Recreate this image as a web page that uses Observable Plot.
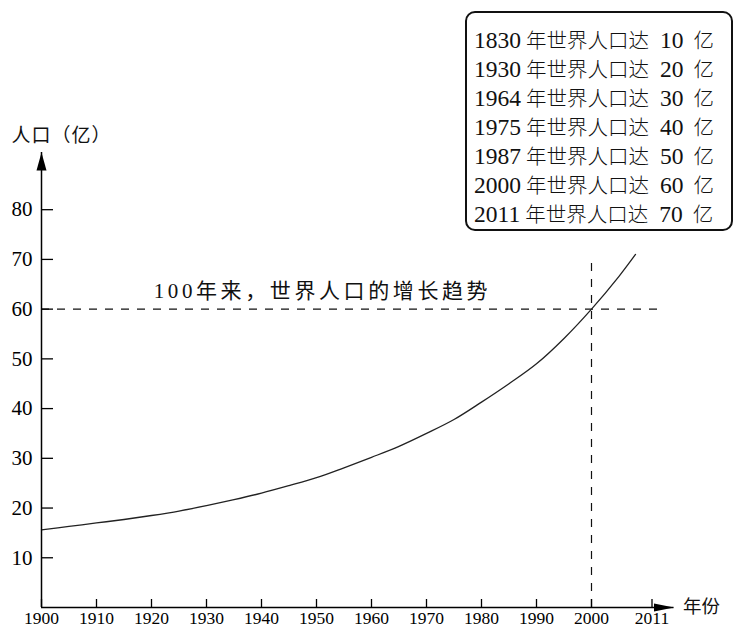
<!DOCTYPE html>
<html>
<head>
<meta charset="utf-8">
<script src="https://cdn.jsdelivr.net/npm/d3@7"></script>
<script src="https://cdn.jsdelivr.net/npm/@observablehq/plot@0.6"></script>
<style>
  html, body { margin: 0; padding: 0; background: #fff; }
  #wrap { position: relative; width: 737px; height: 629px; }
  #box {
    position: absolute; left: 465px; top: 11px; width: 264px; height: 216px;
    border: 2px solid #111; border-radius: 10px; box-sizing: content-box;
    color: #111; z-index: 2; background: #fff;
  }
  #box .inner { position: absolute; left: 7px; top: 12px; white-space: nowrap; }
  #box .row { height: 29px; line-height: 29px; }
  #box .n { font-family: "Liberation Serif", serif; font-size: 23.5px; }
  #box .c { font-family: "Noto Sans CJK SC", sans-serif; font-size: 20.5px; font-weight: 300; }
  #box .yr { margin-right: 5px; }
  #box .val { margin-left: 11px; margin-right: 10px; }
</style>
</head>
<body>
<div id="wrap"><div id="box"><div class="inner" id="boxtext"></div></div></div>
<script>
// ---- data ----
const years = [1900, 1905, 1910, 1915, 1920, 1925, 1930, 1935, 1940, 1945, 1950, 1955, 1960, 1965, 1970, 1975, 1980, 1985, 1990, 1995, 2000, 2005, 2008];
const population = [15.6, 16.3, 17.0, 17.7, 18.5, 19.4, 20.5, 21.7, 23.0, 24.5, 26.1, 28.1, 30.2, 32.4, 35.0, 37.8, 41.3, 45.0, 49.0, 54.1, 60.0, 66.6, 71.0];
const xTicks = [1900, 1910, 1920, 1930, 1940, 1950, 1960, 1970, 1980, 1990, 2000, 2011];
const yTicks = [10, 20, 30, 40, 50, 60, 70, 80];
const milestoneYears = [1830, 1930, 1964, 1975, 1987, 2000, 2011];
const milestoneValues = [10, 20, 30, 40, 50, 60, 70];
const refYear = 2000, refValue = 60;
const guideXEnd = 2012.2, guideYEnd = 70.8;
const xAxisEnd = 2015, yAxisEnd = 91.5;
const titleText = "100年来，世界人口的增长趋势";
const titleAt = [{x: 1920.4, y: 60}];
const yTitle = "人口（亿）";
const xTitle = "年份";

const series = years.map((y, i) => ({year: y, pop: population[i]}));

const serif = "'Liberation Serif', 'Noto Sans CJK SC', serif";

const arrowUp = {draw(ctx) { ctx.moveTo(0, 0); ctx.lineTo(5, 18); ctx.lineTo(-5, 18); ctx.closePath(); }};
const arrowRight = {draw(ctx) { ctx.moveTo(0, 0); ctx.lineTo(-20, 4); ctx.lineTo(-20, -4); ctx.closePath(); }};

const chart = Plot.plot({
  width: 737,
  height: 629,
  marginLeft: 41,
  marginRight: 63.5,
  marginTop: 152,
  marginBottom: 22,
  style: {fontFamily: serif, background: "transparent", overflow: "visible"},
  x: {domain: [1900, xAxisEnd]},
  y: {domain: [0, yAxisEnd]},
  marks: [
    Plot.ruleY([refValue], {x1: 1900, x2: guideXEnd, stroke: "#111", strokeWidth: 1.2, strokeDasharray: "8,8"}),
    Plot.ruleX([refYear], {y1: 0, y2: guideYEnd, stroke: "#111", strokeWidth: 1.2, strokeDasharray: "8,8"}),
    Plot.line(series, {x: "year", y: "pop", curve: "catmull-rom", stroke: "#222", strokeWidth: 1.3}),
    Plot.ruleY([0], {x1: 1900, x2: xAxisEnd, stroke: "#000", strokeWidth: 1.5}),
    Plot.ruleX([1900], {y1: 0, y2: yAxisEnd, stroke: "#000", strokeWidth: 1.5}),
    Plot.dot([{x: 1900, y: yAxisEnd}], {x: "x", y: "y", symbol: arrowUp, fill: "#000", stroke: "none"}),
    Plot.dot([{x: xAxisEnd, y: 0}], {x: "x", y: "y", symbol: arrowRight, fill: "#000", stroke: "none"}),
    Plot.axisX({ticks: xTicks, tickFormat: d => String(d), tickSize: -8, tickPadding: 12.5, fontSize: 17.5, fontFamily: serif, stroke: "#000", strokeWidth: 1.3, fill: "#000"}),
    Plot.axisY({ticks: yTicks, tickFormat: d => String(d), tickSize: -12, tickPadding: 21, fontSize: 21, fontFamily: serif, stroke: "#000", strokeWidth: 1.3, fill: "#000"}),
    Plot.text(titleAt, {x: "x", y: "y", text: () => titleText, textAnchor: "start", lineAnchor: "bottom", dy: -11, fontSize: 21, fontFamily: serif, fill: "#111"}),
    Plot.text([{x: 1900, y: yAxisEnd}], {x: "x", y: "y", text: () => yTitle, textAnchor: "start", dx: -30, dy: -17, fontSize: 19, fontFamily: serif, fill: "#111"}),
    Plot.text([{x: xAxisEnd, y: 0}], {x: "x", y: "y", text: () => xTitle, textAnchor: "start", dx: 9, fontSize: 18.5, fontFamily: serif, fill: "#111"})
  ]
});

chart.querySelectorAll("text").forEach(t => {
  if (t.textContent === titleText) t.style.letterSpacing = "3.6px";
  if (t.textContent === yTitle) t.style.letterSpacing = "1px";
});

document.getElementById("wrap").prepend(chart);
chart.style.position = "absolute";
chart.style.left = "0";
chart.style.top = "0";

const boxText = document.getElementById("boxtext");
boxText.innerHTML = milestoneYears.map((y, i) =>
  `<div class="row"><span class="n yr">${y}</span><span class="c">年世界人口达</span><span class="n val">${milestoneValues[i]}</span><span class="c">亿</span></div>`
).join("");
</script>
</body>
</html>
